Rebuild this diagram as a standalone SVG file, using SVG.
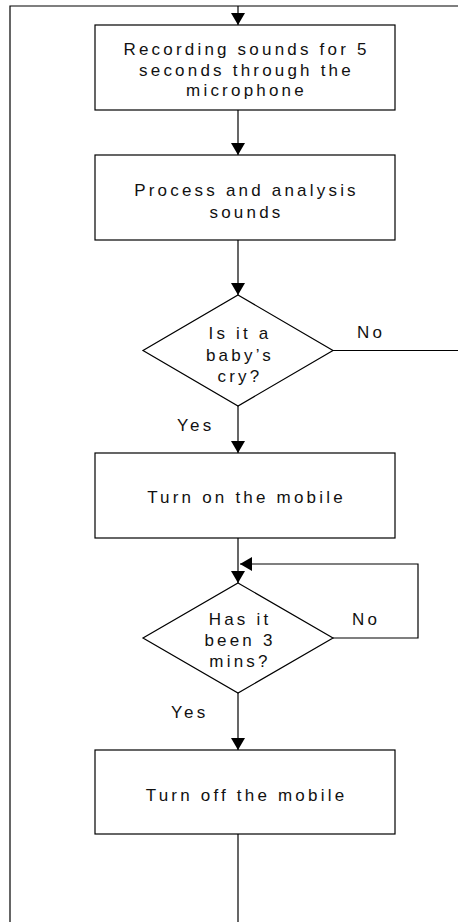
<svg xmlns="http://www.w3.org/2000/svg" width="458" height="922" viewBox="0 0 458 922">
  <style>
    .shape { fill: #fff; stroke: #000; stroke-width: 1.2; }
    .wire { fill: none; stroke: #000; stroke-width: 1.2; }
    text { font-family: "Liberation Sans", Arial, sans-serif; font-size: 17px; letter-spacing: 3.2px; fill: #111; }
    .c { text-anchor: middle; }
  </style>
  <defs>
    <marker id="arrow" viewBox="0 0 12 14" refX="12" refY="7" markerWidth="12" markerHeight="14" markerUnits="userSpaceOnUse" orient="auto">
      <path d="M0,0 L12,7 L0,14 Z" fill="#000"/>
    </marker>
  </defs>

  <!-- connectors -->
  <g id="connectors">
    <polyline class="wire" points="458,6 10,6 10,922"/>
    <line class="wire" x1="238" y1="6" x2="238" y2="25" marker-end="url(#arrow)"/>
    <line class="wire" x1="238" y1="110" x2="238" y2="155" marker-end="url(#arrow)"/>
    <line class="wire" x1="238" y1="240" x2="238" y2="295" marker-end="url(#arrow)"/>
    <line class="wire" x1="333" y1="350.5" x2="458" y2="350.5"/>
    <line class="wire" x1="238" y1="406" x2="238" y2="453" marker-end="url(#arrow)"/>
    <line class="wire" x1="238" y1="538" x2="238" y2="583" marker-end="url(#arrow)"/>
    <polyline class="wire" points="333,638 418,638 418,564 240,564" marker-end="url(#arrow)"/>
    <line class="wire" x1="238" y1="693" x2="238" y2="750" marker-end="url(#arrow)"/>
    <line class="wire" x1="238" y1="834" x2="238" y2="922"/>
    <text x="357" y="338">No</text>
    <text x="177" y="431">Yes</text>
    <text x="352" y="625">No</text>
    <text x="171" y="718">Yes</text>
  </g>

  <!-- step: record -->
  <g id="record">
    <rect class="shape" x="95" y="25" width="300" height="85"/>
    <text class="c" x="246.5" y="55">Recording sounds for 5</text>
    <text class="c" x="246.5" y="75.5">seconds through the</text>
    <text class="c" x="246.5" y="96">microphone</text>
  </g>

  <!-- step: analyse -->
  <g id="analyse">
    <rect class="shape" x="95" y="155" width="300" height="85"/>
    <text class="c" x="246.5" y="196">Process and analysis</text>
    <text class="c" x="246.5" y="218">sounds</text>
  </g>

  <!-- decision: crying -->
  <g id="is-cry">
    <polygon class="shape" points="238,295 333,350.5 238,406 143,350.5"/>
    <text class="c" x="240" y="339">Is it a</text>
    <text class="c" x="240" y="360.5">baby’s</text>
    <text class="c" x="240" y="381.5">cry?</text>
  </g>

  <!-- step: mobile on -->
  <g id="mobile-on">
    <rect class="shape" x="95" y="453" width="300" height="85"/>
    <text class="c" x="246.5" y="502.5">Turn on the mobile</text>
  </g>

  <!-- decision: timer -->
  <g id="three-mins">
    <polygon class="shape" points="238,583 333,638 238,693 143,638"/>
    <text class="c" x="240" y="625">Has it</text>
    <text class="c" x="240" y="646">been 3</text>
    <text class="c" x="240" y="667">mins?</text>
  </g>

  <!-- step: mobile off -->
  <g id="mobile-off">
    <rect class="shape" x="95" y="750" width="300" height="84"/>
    <text class="c" x="246.5" y="801">Turn off the mobile</text>
  </g>
</svg>
